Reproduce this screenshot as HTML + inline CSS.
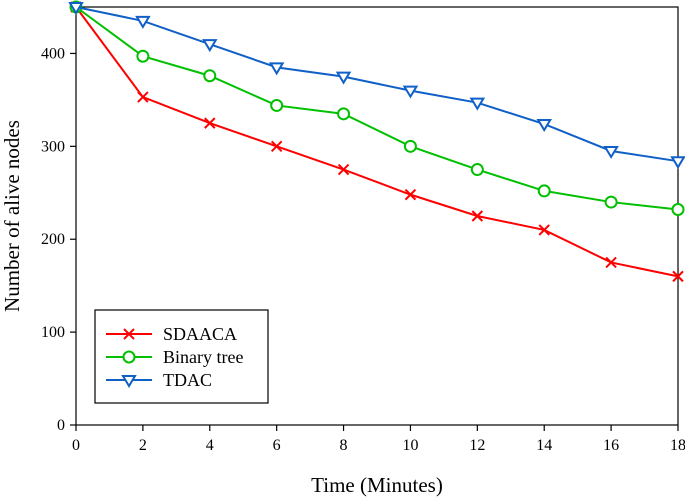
<!DOCTYPE html>
<html><head><meta charset="utf-8"><style>
html,body{margin:0;padding:0;background:#fff;}
svg{display:block;font-family:"Liberation Serif",serif;}
</style></head><body>
<svg id="chart" width="685" height="499"></svg>
<script>
const xValues=[0,2,4,6,8,10,12,14,16,18];
const sdaaca=[450,353,325,300,275,248,225,210,175,160];
const binaryTree=[450,397,376,344,335,300,275,252,240,232];
const tdac=[450,435,410,385,375,360,347,324,295,284];
const xTicks=[0,2,4,6,8,10,12,14,16,18];
const yTicks=[0,100,200,300,400];
const NS="http://www.w3.org/2000/svg";
const svg=document.getElementById('chart');
const L=76,R=678,T=7,B=425;
const sx=v=>L+(v-0)/18*(R-L);
const sy=v=>B-v/450*(B-T);
function mk(t,a,p){const e=document.createElementNS(NS,t);for(const k in a)e.setAttribute(k,a[k]);(p||svg).appendChild(e);return e;}
const frame=mk('rect',{x:L,y:T,width:R-L,height:B-T,fill:'none',stroke:'#000','stroke-width':1.2});


xTicks.forEach(v=>{
 const g=mk('g',{});
 
 
 mk('line',{x1:sx(v),x2:sx(v),y1:B,y2:B+6,stroke:'#000','stroke-width':1.2},g);
 const t=mk('text',{x:sx(v),y:B+25,'text-anchor':'middle','font-size':16},g);t.textContent=v;
});
yTicks.forEach(v=>{
 const g=mk('g',{});
 
 
 mk('line',{x1:L-6,x2:L,y1:sy(v),y2:sy(v),stroke:'#000','stroke-width':1.2},g);
 const t=mk('text',{x:L-11,y:sy(v)+5,'text-anchor':'end','font-size':16},g);t.textContent=v;
});
const xt=mk('text',{x:377,y:492,'text-anchor':'middle','font-size':21});xt.textContent='Time (Minutes)';


const yt=mk('text',{x:0,y:0,'text-anchor':'middle','font-size':21,transform:'translate(19,216) rotate(-90)'});yt.textContent='Number of alive nodes';


function marker(kind,x,y,c,p){
 if(kind==='x'){mk('path',{d:`M${x-5},${y-5}L${x+5},${y+5}M${x-5},${y+5}L${x+5},${y-5}`,stroke:c,'stroke-width':2,fill:'none'},p);}
 else if(kind==='o'){mk('circle',{cx:x,cy:y,r:5.5,fill:'#fff',stroke:c,'stroke-width':2},p);}
 else{mk('path',{d:`M${x-6},${y-4}L${x+6},${y-4}L${x},${y+6}Z`,fill:'#fff',stroke:c,'stroke-width':2},p);}
}
const series=[[sdaaca,'#ff0000','x','sdaaca'],[binaryTree,'#00c000','o','binary-tree'],[tdac,'#1060c8','v','tdac']];
series.forEach(([d,c,k,n])=>{
 const g=mk('g',{});
 
 
 mk('polyline',{points:d.map((v,i)=>sx(xValues[i])+','+sy(v)).join(' '),fill:'none',stroke:c,'stroke-width':2},g);
 d.forEach((v,i)=>marker(k,sx(xValues[i]),sy(v),c,g));
});
const lg=mk('g',{});


mk('rect',{x:95,y:310,width:173,height:93,fill:'#fff',stroke:'#000','stroke-width':1.2},lg);
const names=['SDAACA','Binary tree','TDAC'];
series.forEach(([d,c,k,n],i)=>{
 const y=334+i*23;
 const e=mk('g',{},lg);
 
 
 mk('line',{x1:106,x2:152,y1:y,y2:y,stroke:c,'stroke-width':2},e);
 marker(k,129,y,c,e);
 const t=mk('text',{x:163,y:y+6,'font-size':18},e);t.textContent=names[i];
});
</script>
</body></html>
